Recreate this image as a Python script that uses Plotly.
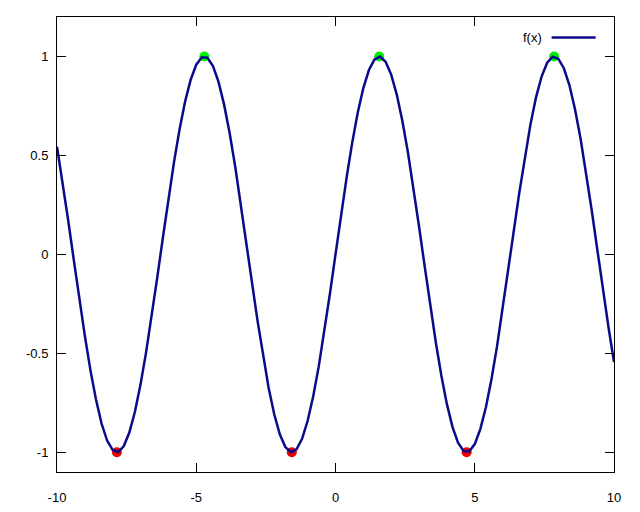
import plotly.graph_objects as go

# x samples (step 0.2 from -10 to 10)
x_vals = [round(-10 + 0.2 * i, 1) for i in range(101)]
# f(x) values
y_vals = [
    0.544, 0.366, 0.174, -0.025, -0.223, -0.412, -0.585, -0.734, -0.855, -0.941,
    -0.989, -0.999, -0.969, -0.899, -0.794, -0.657, -0.494, -0.312, -0.117, 0.083,
    0.279, 0.465, 0.631, 0.773, 0.883, 0.959, 0.996, 0.994, 0.952, 0.872,
    0.757, 0.612, 0.443, 0.256, 0.058, -0.141, -0.335, -0.516, -0.675, -0.808,
    -0.909, -0.974, -1.000, -0.985, -0.932, -0.841, -0.717, -0.565, -0.389, -0.199,
    0.0,
    0.199, 0.389, 0.565, 0.717, 0.841, 0.932, 0.985, 1.000, 0.974, 0.909,
    0.808, 0.675, 0.516, 0.335, 0.141, -0.058, -0.256, -0.443, -0.612, -0.757,
    -0.872, -0.952, -0.994, -0.996, -0.959, -0.883, -0.773, -0.631, -0.465, -0.279,
    -0.083, 0.117, 0.312, 0.494, 0.657, 0.794, 0.899, 0.969, 0.999, 0.989,
    0.941, 0.855, 0.734, 0.585, 0.412, 0.223, 0.025, -0.174, -0.366, -0.544,
]
# maxima (green) and minima (red)
max_x = [-4.71, 1.57, 7.85]
max_y = [1, 1, 1]
min_x = [-7.85, -1.57, 4.71]
min_y = [-1, -1, -1]

x_ticks = [-10, -5, 0, 5, 10]
y_ticks = [-1, -0.5, 0, 0.5, 1]
y_tick_text = ["-1", "-0.5", "0", "0.5", "1"]

line_color = "#0a0a8a"
font_family = "Liberation Sans, Arial"

fig = go.Figure()
fig.add_trace(go.Scatter(x=max_x, y=max_y, mode="markers",
                         marker=dict(color="#00ee00", size=10), showlegend=False))
fig.add_trace(go.Scatter(x=min_x, y=min_y, mode="markers",
                         marker=dict(color="#ee0000", size=10), showlegend=False))
fig.add_trace(go.Scatter(x=x_vals, y=y_vals, mode="lines", name="f(x)",
                         line=dict(color=line_color, width=2.5), showlegend=False))

axis_common = dict(showgrid=False, zeroline=False, showline=True, linecolor="black",
                   linewidth=1, mirror="allticks", ticks="inside", ticklen=9,
                   tickcolor="black", tickfont=dict(family=font_family, size=13, color="black"))

fig.update_xaxes(range=[-10, 10], tickvals=x_ticks, ticktext=[str(t) for t in x_ticks],
                 ticklabelstandoff=13, **axis_common)
fig.update_yaxes(range=[-1.1, 1.2], tickvals=y_ticks, ticktext=y_tick_text,
                 ticklabelstandoff=5, **axis_common)

# gnuplot-style legend: text then line sample
fig.add_annotation(x=0.875, y=0.955, xref="paper", yref="paper", text="f(x)", showarrow=False,
                   xanchor="right", yanchor="middle",
                   font=dict(family=font_family, size=13, color="black"))
fig.add_shape(type="line", xref="paper", yref="paper", x0=0.888, x1=0.967, y0=0.955, y1=0.955,
              line=dict(color=line_color, width=2.5))

fig.update_layout(width=640, height=512, margin=dict(l=49, r=34, t=9, b=48),
                  plot_bgcolor="white", paper_bgcolor="white",
                  font=dict(family=font_family, size=13, color="black"))

fig.write_html("out.html")
